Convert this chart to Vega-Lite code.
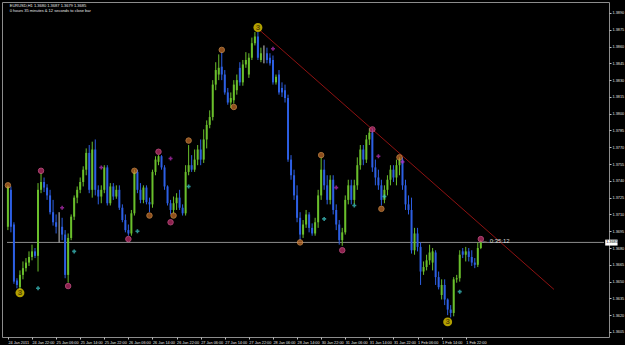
{
"$schema": "https://vega.github.io/schema/vega-lite/v6.json",
"autosize": {"type": "none"},
"width": 607, "height": 335,
"padding": {"left": 2, "top": 2, "right": 16, "bottom": 8},
"background": "#000000",
"config": {"view": {"stroke": "#8c8c8c", "strokeWidth": 1}, "font": "Liberation Sans"},
"datasets": {
"candles": [
{"b":0,"o":1.3699,"h":1.3736,"l":1.3696,"c":1.3735},{"b":1,"o":1.3732,"h":1.3735,"l":1.3694,"c":1.3699},{"b":2,"o":1.3701,"h":1.3703,"l":1.3648,"c":1.3650},{"b":3,"o":1.3651,"h":1.3653,"l":1.3644,"c":1.3647},{"b":4,"o":1.3645,"h":1.3660,"l":1.3643,"c":1.3656},{"b":5,"o":1.3656,"h":1.3668,"l":1.3652,"c":1.3662},{"b":6,"o":1.3662,"h":1.3671,"l":1.3659,"c":1.3667},{"b":7,"o":1.3667,"h":1.3677,"l":1.3664,"c":1.3672},{"b":8,"o":1.3672,"h":1.3683,"l":1.3669,"c":1.3677},{"b":9,"o":1.3677,"h":1.3680,"l":1.3671,"c":1.3673},
{"b":10,"o":1.3673,"h":1.3738,"l":1.3659,"c":1.3732},{"b":11,"o":1.3732,"h":1.3747,"l":1.3729,"c":1.3739},{"b":12,"o":1.3739,"h":1.3743,"l":1.3730,"c":1.3734},{"b":13,"o":1.3734,"h":1.3737,"l":1.3723,"c":1.3727},{"b":14,"o":1.3727,"h":1.3732,"l":1.3710,"c":1.3712},{"b":15,"o":1.3712,"h":1.3723,"l":1.3700,"c":1.3703},{"b":16,"o":1.3703,"h":1.3710,"l":1.3693,"c":1.3699},{"b":17,"o":1.3699,"h":1.3712,"l":1.3685,"c":1.3699},{"b":18,"o":1.3699,"h":1.3707,"l":1.3687,"c":1.3692},{"b":19,"o":1.3692,"h":1.3696,"l":1.3653,"c":1.3656},
{"b":20,"o":1.3656,"h":1.3693,"l":1.3649,"c":1.3689},{"b":21,"o":1.3689,"h":1.3710,"l":1.3687,"c":1.3708},{"b":22,"o":1.3708,"h":1.3727,"l":1.3705,"c":1.3725},{"b":23,"o":1.3725,"h":1.3735,"l":1.3720,"c":1.3732},{"b":24,"o":1.3732,"h":1.3743,"l":1.3729,"c":1.3739},{"b":25,"o":1.3739,"h":1.3753,"l":1.3735,"c":1.3750},{"b":26,"o":1.3750,"h":1.3769,"l":1.3745,"c":1.3765},{"b":27,"o":1.3765,"h":1.3772,"l":1.3729,"c":1.3732},{"b":28,"o":1.3732,"h":1.3775,"l":1.3725,"c":1.3768},{"b":29,"o":1.3768,"h":1.3777,"l":1.3727,"c":1.3732},
{"b":30,"o":1.3732,"h":1.3736,"l":1.3719,"c":1.3726},{"b":31,"o":1.3726,"h":1.3736,"l":1.3720,"c":1.3732},{"b":32,"o":1.3732,"h":1.3754,"l":1.3729,"c":1.3752},{"b":33,"o":1.3752,"h":1.3754,"l":1.3718,"c":1.3720},{"b":34,"o":1.3720,"h":1.3738,"l":1.3718,"c":1.3735},{"b":35,"o":1.3735,"h":1.3738,"l":1.3723,"c":1.3726},{"b":36,"o":1.3726,"h":1.3736,"l":1.3724,"c":1.3732},{"b":37,"o":1.3732,"h":1.3736,"l":1.3714,"c":1.3716},{"b":38,"o":1.3716,"h":1.3719,"l":1.3703,"c":1.3705},{"b":39,"o":1.3705,"h":1.3710,"l":1.3694,"c":1.3696},
{"b":40,"o":1.3696,"h":1.3701,"l":1.3691,"c":1.3693},{"b":41,"o":1.3693,"h":1.3714,"l":1.3691,"c":1.3711},{"b":42,"o":1.3711,"h":1.3750,"l":1.3709,"c":1.3748},{"b":43,"o":1.3748,"h":1.3750,"l":1.3729,"c":1.3732},{"b":44,"o":1.3732,"h":1.3738,"l":1.3720,"c":1.3723},{"b":45,"o":1.3723,"h":1.3736,"l":1.3720,"c":1.3734},{"b":46,"o":1.3734,"h":1.3736,"l":1.3719,"c":1.3721},{"b":47,"o":1.3721,"h":1.3725,"l":1.3712,"c":1.3719},{"b":48,"o":1.3719,"h":1.3750,"l":1.3716,"c":1.3748},{"b":49,"o":1.3748,"h":1.3762,"l":1.3745,"c":1.3759},
{"b":50,"o":1.3757,"h":1.3763,"l":1.3754,"c":1.3762},{"b":51,"o":1.3762,"h":1.3763,"l":1.3750,"c":1.3752},{"b":52,"o":1.3752,"h":1.3754,"l":1.3732,"c":1.3735},{"b":53,"o":1.3735,"h":1.3736,"l":1.3718,"c":1.3720},{"b":54,"o":1.3720,"h":1.3723,"l":1.3710,"c":1.3714},{"b":55,"o":1.3714,"h":1.3726,"l":1.3711,"c":1.3720},{"b":56,"o":1.3720,"h":1.3729,"l":1.3714,"c":1.3725},{"b":57,"o":1.3725,"h":1.3732,"l":1.3714,"c":1.3716},{"b":58,"o":1.3716,"h":1.3719,"l":1.3709,"c":1.3711},{"b":59,"o":1.3711,"h":1.3754,"l":1.3709,"c":1.3748},
{"b":60,"o":1.3748,"h":1.3772,"l":1.3745,"c":1.3754},{"b":61,"o":1.3754,"h":1.3763,"l":1.3748,"c":1.3750},{"b":62,"o":1.3750,"h":1.3768,"l":1.3748,"c":1.3759},{"b":63,"o":1.3759,"h":1.3772,"l":1.3754,"c":1.3768},{"b":64,"o":1.3768,"h":1.3777,"l":1.3754,"c":1.3759},{"b":65,"o":1.3759,"h":1.3786,"l":1.3756,"c":1.3777},{"b":66,"o":1.3777,"h":1.3794,"l":1.3769,"c":1.3790},{"b":67,"o":1.3790,"h":1.3803,"l":1.3787,"c":1.3797},{"b":68,"o":1.3797,"h":1.3830,"l":1.3794,"c":1.3826},{"b":69,"o":1.3826,"h":1.3846,"l":1.3821,"c":1.3839},
{"b":70,"o":1.3835,"h":1.3853,"l":1.3830,"c":1.3841},{"b":71,"o":1.3842,"h":1.3855,"l":1.3830,"c":1.3835},{"b":72,"o":1.3835,"h":1.3839,"l":1.3817,"c":1.3819},{"b":73,"o":1.3819,"h":1.3823,"l":1.3808,"c":1.3810},{"b":74,"o":1.3810,"h":1.3819,"l":1.3805,"c":1.3814},{"b":75,"o":1.3812,"h":1.3830,"l":1.3809,"c":1.3826},{"b":76,"o":1.3821,"h":1.3835,"l":1.3817,"c":1.3830},{"b":77,"o":1.3841,"h":1.3846,"l":1.3825,"c":1.3828},{"b":78,"o":1.3828,"h":1.3848,"l":1.3825,"c":1.3844},{"b":79,"o":1.3844,"h":1.3855,"l":1.3841,"c":1.3848},
{"b":80,"o":1.3835,"h":1.3854,"l":1.3832,"c":1.3850},{"b":81,"o":1.3850,"h":1.3868,"l":1.3848,"c":1.3863},{"b":82,"o":1.3863,"h":1.3873,"l":1.3861,"c":1.3869},{"b":83,"o":1.3869,"h":1.3873,"l":1.3848,"c":1.3850},{"b":84,"o":1.3848,"h":1.3859,"l":1.3846,"c":1.3854},{"b":85,"o":1.3855,"h":1.3861,"l":1.3845,"c":1.3855},{"b":86,"o":1.3854,"h":1.3859,"l":1.3845,"c":1.3848},{"b":87,"o":1.3850,"h":1.3854,"l":1.3843,"c":1.3845},{"b":88,"o":1.3848,"h":1.3852,"l":1.3826,"c":1.3828},{"b":89,"o":1.3828,"h":1.3835,"l":1.3826,"c":1.3833},
{"b":90,"o":1.3835,"h":1.3839,"l":1.3817,"c":1.3819},{"b":91,"o":1.3823,"h":1.3828,"l":1.3815,"c":1.3819},{"b":92,"o":1.3821,"h":1.3826,"l":1.3810,"c":1.3814},{"b":93,"o":1.3814,"h":1.3817,"l":1.3757,"c":1.3759},{"b":94,"o":1.3759,"h":1.3763,"l":1.3741,"c":1.3745},{"b":95,"o":1.3745,"h":1.3750,"l":1.3723,"c":1.3727},{"b":96,"o":1.3727,"h":1.3736,"l":1.3703,"c":1.3707},{"b":97,"o":1.3707,"h":1.3712,"l":1.3687,"c":1.3692},{"b":98,"o":1.3692,"h":1.3705,"l":1.3689,"c":1.3701},{"b":99,"o":1.3701,"h":1.3714,"l":1.3698,"c":1.3710},
{"b":100,"o":1.3710,"h":1.3712,"l":1.3694,"c":1.3698},{"b":101,"o":1.3698,"h":1.3702,"l":1.3691,"c":1.3693},{"b":102,"o":1.3693,"h":1.3707,"l":1.3691,"c":1.3703},{"b":103,"o":1.3703,"h":1.3732,"l":1.3698,"c":1.3727},{"b":104,"o":1.3727,"h":1.3761,"l":1.3723,"c":1.3750},{"b":105,"o":1.3750,"h":1.3759,"l":1.3732,"c":1.3736},{"b":106,"o":1.3736,"h":1.3745,"l":1.3719,"c":1.3723},{"b":107,"o":1.3723,"h":1.3745,"l":1.3719,"c":1.3741},{"b":108,"o":1.3741,"h":1.3745,"l":1.3710,"c":1.3714},{"b":109,"o":1.3714,"h":1.3719,"l":1.3696,"c":1.3701},
{"b":110,"o":1.3701,"h":1.3705,"l":1.3683,"c":1.3687},{"b":111,"o":1.3687,"h":1.3698,"l":1.3682,"c":1.3694},{"b":112,"o":1.3694,"h":1.3727,"l":1.3692,"c":1.3723},{"b":113,"o":1.3723,"h":1.3741,"l":1.3719,"c":1.3736},{"b":114,"o":1.3736,"h":1.3741,"l":1.3719,"c":1.3723},{"b":115,"o":1.3723,"h":1.3741,"l":1.3719,"c":1.3736},{"b":116,"o":1.3736,"h":1.3761,"l":1.3732,"c":1.3754},{"b":117,"o":1.3754,"h":1.3772,"l":1.3750,"c":1.3768},{"b":118,"o":1.3768,"h":1.3772,"l":1.3754,"c":1.3759},{"b":119,"o":1.3759,"h":1.3781,"l":1.3756,"c":1.3777},
{"b":120,"o":1.3777,"h":1.3787,"l":1.3772,"c":1.3783},{"b":121,"o":1.3783,"h":1.3787,"l":1.3748,"c":1.3752},{"b":122,"o":1.3752,"h":1.3759,"l":1.3736,"c":1.3743},{"b":123,"o":1.3743,"h":1.3750,"l":1.3732,"c":1.3736},{"b":124,"o":1.3736,"h":1.3741,"l":1.3718,"c":1.3723},{"b":125,"o":1.3723,"h":1.3736,"l":1.3720,"c":1.3732},{"b":126,"o":1.3732,"h":1.3745,"l":1.3727,"c":1.3741},{"b":127,"o":1.3741,"h":1.3754,"l":1.3736,"c":1.3750},{"b":128,"o":1.3750,"h":1.3754,"l":1.3739,"c":1.3743},{"b":129,"o":1.3743,"h":1.3759,"l":1.3736,"c":1.3754},
{"b":130,"o":1.3754,"h":1.3761,"l":1.3745,"c":1.3759},{"b":131,"o":1.3759,"h":1.3761,"l":1.3732,"c":1.3736},{"b":132,"o":1.3736,"h":1.3741,"l":1.3714,"c":1.3719},{"b":133,"o":1.3719,"h":1.3727,"l":1.3710,"c":1.3714},{"b":134,"o":1.3714,"h":1.3725,"l":1.3675,"c":1.3678},{"b":135,"o":1.3678,"h":1.3698,"l":1.3674,"c":1.3693},{"b":136,"o":1.3693,"h":1.3698,"l":1.3677,"c":1.3681},{"b":137,"o":1.3681,"h":1.3685,"l":1.3647,"c":1.3659},{"b":138,"o":1.3659,"h":1.3668,"l":1.3656,"c":1.3663},{"b":139,"o":1.3663,"h":1.3674,"l":1.3660,"c":1.3669},
{"b":140,"o":1.3669,"h":1.3683,"l":1.3665,"c":1.3676},{"b":141,"o":1.3667,"h":1.3680,"l":1.3660,"c":1.3677},{"b":142,"o":1.3676,"h":1.3678,"l":1.3647,"c":1.3654},{"b":143,"o":1.3654,"h":1.3659,"l":1.3643,"c":1.3645},{"b":144,"o":1.3638,"h":1.3652,"l":1.3634,"c":1.3647},{"b":145,"o":1.3647,"h":1.3652,"l":1.3629,"c":1.3634},{"b":146,"o":1.3634,"h":1.3635,"l":1.3620,"c":1.3625},{"b":147,"o":1.3625,"h":1.3629,"l":1.3618,"c":1.3622},{"b":148,"o":1.3622,"h":1.3654,"l":1.3619,"c":1.3652},{"b":149,"o":1.3652,"h":1.3656,"l":1.3649,"c":1.3653},
{"b":150,"o":1.3653,"h":1.3678,"l":1.3650,"c":1.3674},{"b":151,"o":1.3677,"h":1.3680,"l":1.3671,"c":1.3674},{"b":152,"o":1.3674,"h":1.3681,"l":1.3668,"c":1.3677},{"b":153,"o":1.3677,"h":1.3680,"l":1.3668,"c":1.3672},{"b":154,"o":1.3672,"h":1.3678,"l":1.3664,"c":1.3667},{"b":155,"o":1.3667,"h":1.3671,"l":1.3662,"c":1.3665},{"b":156,"o":1.3665,"h":1.3685,"l":1.3663,"c":1.3680},{"b":157,"o":1.3680,"h":1.3687,"l":1.3679,"c":1.3685}
],
"markers": [
{"b":0,"p":1.3736,"k":"fractal up"},{"b":42,"p":1.3749,"k":"fractal up"},{"b":47,"p":1.3709,"k":"fractal up"},{"b":55,"p":1.3709,"k":"fractal up"},{"b":60,"p":1.3776,"k":"fractal up"},{"b":71,"p":1.3857,"k":"fractal up"},{"b":75,"p":1.3806,"k":"fractal up"},{"b":97,"p":1.3685,"k":"fractal up"},{"b":104,"p":1.3763,"k":"fractal up"},{"b":124,"p":1.3715,"k":"fractal up"},{"b":130,"p":1.3761,"k":"fractal up"},
{"b":11,"p":1.3749,"k":"wave"},{"b":20,"p":1.3646,"k":"wave"},{"b":40,"p":1.3688,"k":"wave"},{"b":50,"p":1.3766,"k":"wave"},{"b":54,"p":1.3703,"k":"wave"},{"b":111,"p":1.3678,"k":"wave"},{"b":121,"p":1.3786,"k":"wave"},{"b":157,"p":1.3688,"k":"wave"}
],
"plus": [
{"b":18,"p":1.3716,"k":"sell"},{"b":31,"p":1.3752,"k":"sell"},{"b":54,"p":1.3760,"k":"sell"},{"b":88,"p":1.3858,"k":"sell"},{"b":109,"p":1.3734,"k":"sell"},{"b":123,"p":1.3762,"k":"sell"},{"b":131,"p":1.3757,"k":"sell"},
{"b":10,"p":1.3644,"k":"buy"},{"b":22,"p":1.3677,"k":"buy"},{"b":43,"p":1.3695,"k":"buy"},{"b":60,"p":1.3735,"k":"buy"},{"b":105,"p":1.3706,"k":"buy"},{"b":115,"p":1.3718,"k":"buy"},{"b":125,"p":1.3726,"k":"buy"},{"b":150,"p":1.3641,"k":"buy"}
],
"three": [{"b":4,"p":1.3640,"n":"3"},{"b":83,"p":1.3877,"n":"3"},{"b":146,"p":1.3614,"n":"3"}],
"trend": [{"b":82.6,"p":1.3877},{"b":181.3,"p":1.3643}],
"bid": [{"p":1.3685,"r0":-0.3,"r1":197.9,"b0":198.3,"b1":202.4,"p0":1.36875,"p1":1.36822,"t":"1.3685"}],
"info": [{"b":0.6,"p1":1.38965,"p2":1.38922,"t1":"EURUSD,H1  1.3680 1.3687 1.3679 1.3685","t2":"0 hours 35 minutes & 12 seconds to close bar","bt":157.4,"pt":1.36865,"tt":"\u2190 0:35:12"}]
},
"encoding": {
  "x": {"field": "b", "type": "quantitative", "scale": {"domain": [-0.3, 197.9], "nice": false, "zero": false},
        "axis": {"orient": "bottom", "title": null, "grid": false, "domain": false, "values": [0,8,16,24,32,40,48,56,64,72,80,88,96,104,112,120,128,136,144,152],
                 "labelExpr": "['24 Jan 2011','24 Jan 22:00','25 Jan 06:00','25 Jan 14:00','25 Jan 22:00','26 Jan 06:00','26 Jan 14:00','26 Jan 22:00','27 Jan 06:00','27 Jan 14:00','27 Jan 22:00','28 Jan 06:00','28 Jan 14:00','30 Jan 22:00','31 Jan 06:00','31 Jan 14:00','31 Jan 22:00','1 Feb 06:00','1 Feb 14:00','1 Feb 22:00'][round(datum.value/8)]",
                 "labelAlign": "left", "labelBaseline": "top", "labelPadding": 1, "labelFontSize": 3.8, "labelColor": "#e0e0e0", "tickSize": 2, "tickColor": "#c0c0c0", "labelOverlap": false, "labelFlush": false, "labelBound": false}},
  "y": {"field": "p", "type": "quantitative", "scale": {"domain": [1.36005, 1.38998], "nice": false, "zero": false},
        "axis": {"orient": "right", "title": null, "grid": false, "domain": false, "values": [1.3605,1.362,1.3635,1.365,1.3665,1.368,1.3695,1.371,1.3725,1.374,1.3755,1.377,1.3785,1.38,1.3815,1.383,1.3845,1.386,1.3875,1.389],
                 "format": ".4f", "labelFontSize": 3.8, "labelColor": "#e0e0e0", "labelPadding": 1, "tickSize": 2, "tickColor": "#c0c0c0", "labelOverlap": false, "labelFlush": false, "labelBound": false}}
},
"layer": [
{"data": {"name": "bid"}, "mark": {"type": "rule", "color": "#8c8c8c", "strokeWidth": 1},
 "encoding": {"x": {"field": "r0", "type": "quantitative"}, "x2": {"field": "r1"}}},
{"data": {"name": "trend"}, "mark": {"type": "line", "color": "#8e1212", "strokeWidth": 1}},
{"data": {"name": "candles"}, "mark": {"type": "rule", "strokeWidth": 1},
 "encoding": {
  "y": {"field": "l", "type": "quantitative"},
  "y2": {"field": "h"},
  "color": {"condition": [{"test": "datum.c > datum.o", "value": "#6abf2c"}, {"test": "datum.c < datum.o", "value": "#2d5fe3"}], "value": "#c8c8c8"}
 }},
{"data": {"name": "candles"}, "mark": {"type": "bar", "width": 2},
 "encoding": {
  "y": {"field": "o", "type": "quantitative"},
  "y2": {"field": "c"},
  "color": {"condition": [{"test": "datum.c > datum.o", "value": "#6abf2c"}, {"test": "datum.c < datum.o", "value": "#2d5fe3"}], "value": "#c8c8c8"}
 }},
{"data": {"name": "markers"}, "mark": {"type": "point", "shape": "circle", "filled": true, "size": 30, "strokeWidth": 1},
 "encoding": {
  "fill": {"field": "k", "type": "nominal", "scale": {"domain": ["fractal up", "wave"], "range": ["#c9702a", "#c8306e"]}, "legend": null},
  "stroke": {"field": "k", "type": "nominal", "scale": {"domain": ["fractal up", "wave"], "range": ["#f0a050", "#f060a0"]}, "legend": null}
 }},
{"data": {"name": "plus"}, "mark": {"type": "point", "shape": "cross", "filled": true, "size": 16},
 "encoding": {
  "color": {"field": "k", "type": "nominal", "scale": {"domain": ["sell", "buy"], "range": ["#c030c0", "#40d0d0"]}, "legend": null}
 }},
{"data": {"name": "three"}, "mark": {"type": "point", "shape": "circle", "filled": true, "size": 80, "color": "#ffe400"}},
{"data": {"name": "three"}, "mark": {"type": "text", "fontSize": 8, "fontWeight": "bold", "color": "#5a4a00", "baseline": "middle", "align": "center", "dy": 0.5},
 "encoding": {"text": {"field": "n"}}},
{"data": {"name": "info"}, "mark": {"type": "text", "fontSize": 6, "color": "#d8d8d8", "align": "left", "baseline": "middle"},
 "encoding": {"x": {"field": "bt", "type": "quantitative"}, "y": {"field": "pt", "type": "quantitative"}, "text": {"field": "tt"}}},
{"data": {"name": "bid"}, "mark": {"type": "rect", "color": "#ffffff"},
 "encoding": {"x": {"field": "b0", "type": "quantitative"}, "x2": {"field": "b1"}, "y": {"field": "p0", "type": "quantitative"}, "y2": {"field": "p1"}}},
{"data": {"name": "bid"}, "mark": {"type": "text", "fontSize": 3.8, "color": "#000000", "align": "left", "baseline": "middle", "dx": 1},
 "encoding": {"x": {"field": "b0", "type": "quantitative"}, "text": {"field": "t"}}},
{"data": {"name": "info"}, "mark": {"type": "text", "fontSize": 4, "color": "#e8e8e8", "align": "left", "baseline": "middle"},
 "encoding": {"y": {"field": "p1", "type": "quantitative"}, "text": {"field": "t1"}}},
{"data": {"name": "info"}, "mark": {"type": "text", "fontSize": 4, "color": "#e8e8e8", "align": "left", "baseline": "middle"},
 "encoding": {"y": {"field": "p2", "type": "quantitative"}, "text": {"field": "t2"}}}
]
}
